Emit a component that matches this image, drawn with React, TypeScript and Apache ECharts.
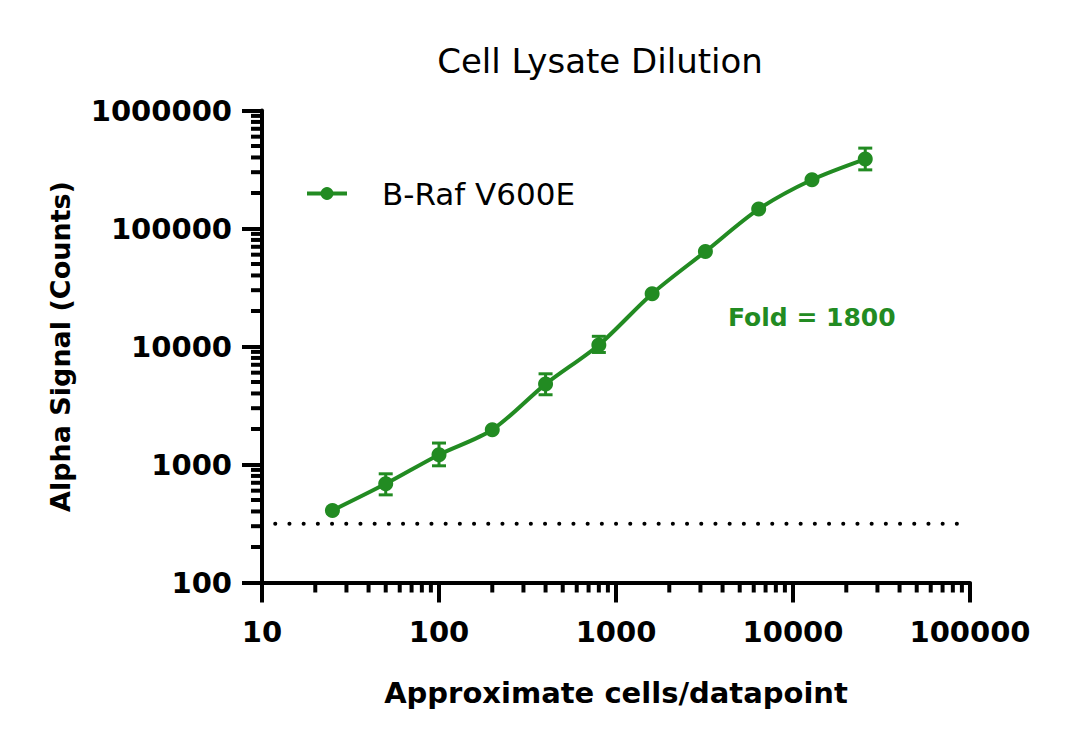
import React, { useEffect, useRef } from 'react'
import * as echarts from 'echarts'

// data
const cells = [25, 50, 100, 200, 400, 800, 1600, 3200, 6400, 12800, 25600]
const signal = [408, 686, 1210, 1970, 4800, 10300, 28000, 63800, 146000, 259000, 388000]
// error bars (null = hidden behind the marker)
const errLow = [null, 553, 975, null, 3900, 8900, null, null, null, null, 314000]
const errHigh = [null, 834, 1520, null, 5870, 12200, null, null, null, null, 480000]
const background = 314
const foldText = 'Fold = 1800'
const seriesName = 'B-Raf V600E'
const xDecades = [10, 100, 1000, 10000, 100000]
const yDecades = [100, 1000, 10000, 100000, 1000000]

const GREEN = '#228B22'
const FONT = 'DejaVu Sans'

// minor ticks 2..9 inside each decade
const minorOf = (decades) => {
	const out = []
	for (let i = 0; i < decades.length - 1; i++) {
		for (let m = 2; m <= 9; m++) out.push(decades[i] * m)
	}
	return out
}

const plainNumber = (v) => String(Math.round(v))

const App = () => {
	const chartRef = useRef(null)

	useEffect(() => {
		const chart = echarts.init(chartRef.current, null, { renderer: 'svg' })

		const points = cells.map((c, i) => [c, signal[i]])
		const bars = cells
			.map((c, i) => [c, errLow[i], errHigh[i]])
			.filter((d) => d[1] != null)

		const options = {
			animation: false,
			textStyle: { fontFamily: FONT },
			title: {
				text: 'Cell Lysate Dilution',
				left: 595,
				top: 39,
				textAlign: 'center',
				textStyle: { fontFamily: FONT, fontSize: 34, fontWeight: 'normal', color: '#000' },
			},
			legend: {
				data: [seriesName],
				left: 305,
				top: 178,
				padding: 0,
				itemWidth: 40,
				itemHeight: 16,
				lineStyle: { width: 4 },
				textStyle: { fontFamily: FONT, fontSize: 31, color: '#000', padding: [0, 0, 0, 30] },
			},
			grid: { left: 262, top: 110.5, width: 708, height: 472, containLabel: false },
			xAxis: {
				type: 'log',
				logBase: 10,
				min: 10,
				max: 100000,
				name: 'Approximate cells/datapoint',
				nameLocation: 'middle',
				nameGap: 96,
				nameTextStyle: { fontFamily: FONT, fontSize: 29, fontWeight: 'bold', color: '#000' },
				axisLine: { lineStyle: { color: '#000', width: 4 } },
				axisTick: { length: 20, lineStyle: { color: '#000', width: 4 } },
				axisLabel: { margin: 35, fontFamily: FONT, fontSize: 29, fontWeight: 'bold', color: '#000', formatter: plainNumber },
				splitLine: { show: false },
			},
			yAxis: {
				type: 'log',
				logBase: 10,
				min: 100,
				max: 1000000,
				name: 'Alpha Signal (Counts)',
				nameLocation: 'middle',
				nameGap: 188,
				nameTextStyle: { fontFamily: FONT, fontSize: 27, fontWeight: 'bold', color: '#000' },
				axisLine: { lineStyle: { color: '#000', width: 4 } },
				axisTick: { length: 20, lineStyle: { color: '#000', width: 4 } },
				axisLabel: { margin: 30, fontFamily: FONT, fontSize: 29, fontWeight: 'bold', color: '#000', formatter: plainNumber },
				splitLine: { show: false },
			},
			graphic: [
				{
					type: 'text',
					left: 728,
					top: 305,
					style: { text: foldText, fontFamily: FONT, fontSize: 25, fontWeight: 'bold', fill: GREEN },
				},
			],
			series: [
				{
					name: 'background',
					type: 'line',
					data: [[10, background], [100000, background]],
					symbol: 'none',
					silent: true,
					lineStyle: { color: '#000', width: 4, type: [0.1, 14.1], cap: 'round', dashOffset: 1.2 },
				},
				{
					name: 'xMinor',
					type: 'custom',
					silent: true,
					clip: false,
					data: minorOf(xDecades).map((v) => [v, 100]),
					renderItem: (params, api) => {
						const p = api.coord([api.value(0), 100])
						return {
							type: 'line',
							shape: { x1: p[0], y1: p[1], x2: p[0], y2: p[1] + 10 },
							style: { stroke: '#000', lineWidth: 4 },
						}
					},
				},
				{
					name: 'yMinor',
					type: 'custom',
					silent: true,
					clip: false,
					data: minorOf(yDecades).map((v) => [10, v]),
					renderItem: (params, api) => {
						const p = api.coord([10, api.value(1)])
						return {
							type: 'line',
							shape: { x1: p[0], y1: p[1], x2: p[0] - 11, y2: p[1] },
							style: { stroke: '#000', lineWidth: 4 },
						}
					},
				},
				{
					name: 'errors',
					type: 'custom',
					silent: true,
					data: bars,
					encode: { x: 0, y: [1, 2] },
					renderItem: (params, api) => {
						const lo = api.coord([api.value(0), api.value(1)])
						const hi = api.coord([api.value(0), api.value(2)])
						const half = 7
						const style = { stroke: GREEN, lineWidth: 3 }
						return {
							type: 'group',
							children: [
								{ type: 'line', shape: { x1: lo[0], y1: lo[1], x2: hi[0], y2: hi[1] }, style },
								{ type: 'line', shape: { x1: lo[0] - half, y1: lo[1], x2: lo[0] + half, y2: lo[1] }, style },
								{ type: 'line', shape: { x1: hi[0] - half, y1: hi[1], x2: hi[0] + half, y2: hi[1] }, style },
							],
						}
					},
				},
				{
					name: seriesName,
					type: 'line',
					data: points,
					smooth: 0.3,
					symbol: 'circle',
					symbolSize: 15,
					itemStyle: { color: GREEN },
					lineStyle: { color: GREEN, width: 4 },
					z: 5,
				},
			],
		}

		chart.setOption(options)

		return () => {
			chart.dispose()
		}
	}, [])

	return (
		<div
			ref={chartRef}
			style={{ position: 'fixed', left: 0, top: 0, width: '1080px', height: '751px', background: '#fff' }}
		/>
	)
}

export default App
